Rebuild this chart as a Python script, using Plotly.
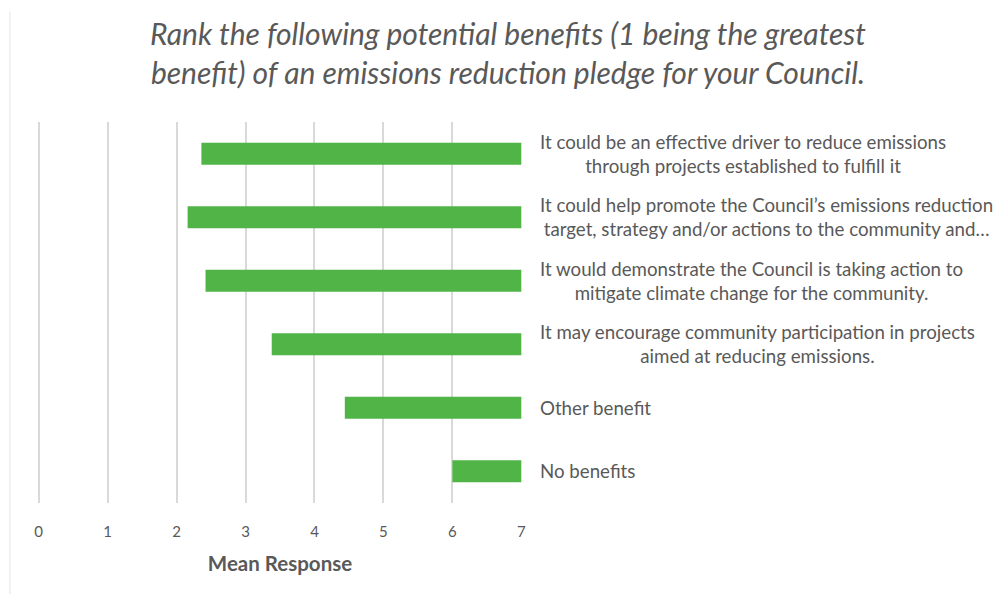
import plotly.graph_objects as go

# Benefit statements (top to bottom) and their mean rank
benefits = [
    "It could be an effective driver to reduce emissions<br>through projects established to fulfill it",
    "It could help promote the Council\u2019s emissions reduction<br>target, strategy and/or actions to the community and\u2026",
    "It would demonstrate the Council is taking action to<br>mitigate climate change for the community.",
    "It may encourage community participation in projects<br>aimed at reducing emissions.",
    "Other benefit",
    "No benefits",
]
mean_response = [2.36, 2.16, 2.42, 3.38, 4.44, 6.00]
x_ticks = [0, 1, 2, 3, 4, 5, 6, 7]
axis_max = 7

cat_ids = [f"b{i}" for i in range(len(benefits))]
GREY = "#595959"
GREEN = "#50b447"

fig = go.Figure(
    go.Bar(
        y=cat_ids,
        x=[axis_max - v for v in mean_response],
        base=mean_response,
        orientation="h",
        marker=dict(color=GREEN, line=dict(width=0)),
        hoverinfo="skip",
    )
)

# category labels sit to the right of the bars, centred line by line
for cid, text in zip(cat_ids, benefits):
    fig.add_annotation(
        x=axis_max, y=cid, xref="x", yref="y",
        text=text, showarrow=False,
        xanchor="left", yanchor="middle", align="center",
        xshift=17,
        font=dict(family="Lato", size=18.7, color=GREY),
    )

# faint chart-area border on the left
fig.add_shape(type="line", xref="paper", yref="paper",
              x0=-0.058, x1=-0.058, y0=-0.3, y1=1.29,
              line=dict(color="#e6e6e6", width=1))

fig.update_layout(
    width=996, height=594,
    margin=dict(l=38, r=474, t=122, b=91),
    paper_bgcolor="white", plot_bgcolor="white",
    showlegend=False,
    bargap=0.65,
    title=dict(
        text="Rank the following potential benefits (1 being the greatest<br>benefit) of an emissions reduction pledge for your Council.",
        xref="container", yref="container",
        x=0.51, xanchor="center", y=0.925, yanchor="top",
        font=dict(family="Lato", size=30, color=GREY, style="italic"),
    ),
    xaxis=dict(
        range=[-0.01, axis_max + 0.01], tickvals=x_ticks,
        showgrid=True, gridcolor="#d9d9d9", gridwidth=1.5,
        zeroline=True, zerolinecolor="#d9d9d9", zerolinewidth=1.5,
        showline=False,
        tickfont=dict(family="Lato", size=15, color=GREY),
        ticks="", ticklen=0, ticklabelstandoff=18,
        title=dict(text="<b>Mean Response</b>", standoff=17,
                   font=dict(family="Lato", size=20.5, color=GREY)),
    ),
    yaxis=dict(
        categoryorder="array", categoryarray=cat_ids,
        autorange="reversed",
        showticklabels=False, showgrid=False, zeroline=False, showline=False,
    ),
)

fig.write_html("out.html")
